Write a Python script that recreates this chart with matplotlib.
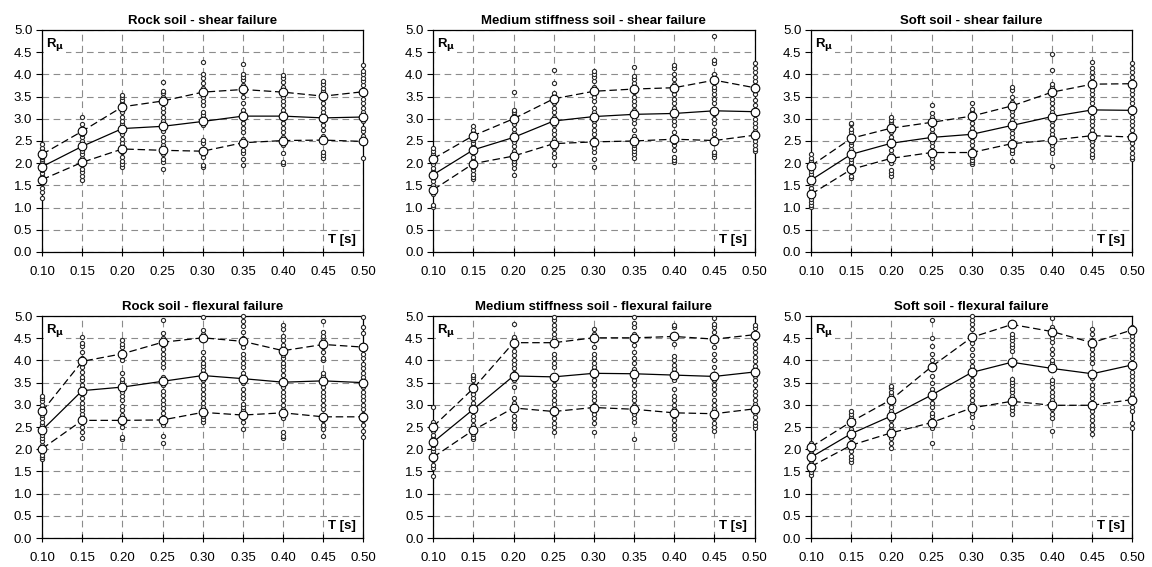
import matplotlib
matplotlib.use("Agg")
import matplotlib.pyplot as plt

plt.rcParams['font.family'] = ['Liberation Sans', 'DejaVu Sans']

# periods
T = [0.10, 0.15, 0.20, 0.25, 0.30, 0.35, 0.40, 0.45, 0.50]
tick_labels = ["0.10", "0.15", "0.20", "0.25", "0.30", "0.35", "0.40", "0.45", "0.50"]

titles = ["Rock soil - shear failure", "Medium stiffness soil - shear failure", "Soft soil - shear failure",
          "Rock soil - flexural failure", "Medium stiffness soil - flexural failure", "Soft soil - flexural failure"]

# mean, mean+std, mean-std for each panel
rock_shear_mean = [1.92, 2.38, 2.78, 2.83, 2.94, 3.06, 3.06, 3.02, 3.04]
rock_shear_up = [2.20, 2.72, 3.27, 3.40, 3.60, 3.66, 3.60, 3.51, 3.61]
rock_shear_lo = [1.63, 2.02, 2.32, 2.29, 2.27, 2.46, 2.51, 2.52, 2.49]

med_shear_mean = [1.74, 2.30, 2.58, 2.95, 3.05, 3.10, 3.12, 3.18, 3.16]
med_shear_up = [2.10, 2.62, 3.00, 3.45, 3.62, 3.67, 3.70, 3.87, 3.70]
med_shear_lo = [1.40, 1.99, 2.16, 2.44, 2.48, 2.50, 2.54, 2.51, 2.63]

soft_shear_mean = [1.62, 2.20, 2.45, 2.58, 2.65, 2.85, 3.05, 3.20, 3.19]
soft_shear_up = [1.94, 2.56, 2.79, 2.92, 3.06, 3.29, 3.60, 3.78, 3.79]
soft_shear_lo = [1.30, 1.86, 2.11, 2.24, 2.24, 2.44, 2.52, 2.62, 2.59]

rock_flex_mean = [2.43, 3.32, 3.40, 3.53, 3.66, 3.59, 3.51, 3.54, 3.50]
rock_flex_up = [2.85, 3.98, 4.15, 4.41, 4.51, 4.43, 4.22, 4.36, 4.30]
rock_flex_lo = [2.01, 2.65, 2.65, 2.66, 2.83, 2.77, 2.82, 2.73, 2.73]

med_flex_mean = [2.16, 2.90, 3.65, 3.63, 3.71, 3.70, 3.67, 3.64, 3.74]
med_flex_up = [2.51, 3.37, 4.40, 4.40, 4.51, 4.51, 4.54, 4.48, 4.58]
med_flex_lo = [1.82, 2.43, 2.93, 2.85, 2.94, 2.90, 2.82, 2.80, 2.91]

soft_flex_mean = [1.82, 2.35, 2.75, 3.22, 3.73, 3.96, 3.82, 3.70, 3.90]
soft_flex_up = [2.05, 2.62, 3.12, 3.86, 4.52, 4.81, 4.65, 4.40, 4.69]
soft_flex_lo = [1.61, 2.09, 2.37, 2.60, 2.93, 3.08, 2.99, 2.99, 3.12]

# individual results, one list per period
rock_shear_pts = [
    [1.22, 1.36, 1.45, 1.55, 1.65, 1.72, 1.78, 1.85, 1.9, 1.95, 2.0, 2.05, 2.1, 2.15, 2.2, 2.28, 2.35, 2.43],
    [1.63, 1.72, 1.8, 1.88, 1.95, 2.0, 2.05, 2.12, 2.2, 2.28, 2.35, 2.42, 2.5, 2.58, 2.65, 2.72, 2.8, 2.88, 3.05],
    [1.92, 1.98, 2.05, 2.15, 2.25, 2.35, 2.45, 2.55, 2.65, 2.72, 2.8, 2.88, 2.95, 3.05, 3.15, 3.25, 3.35, 3.42, 3.48, 3.53],
    [1.86, 2.02, 2.1, 2.2, 2.3, 2.4, 2.5, 2.6, 2.72, 2.85, 2.95, 3.05, 3.15, 3.25, 3.38, 3.5, 3.57, 3.63, 3.82],
    [1.92, 1.96, 2.15, 2.22, 2.32, 2.45, 2.52, 2.85, 2.92, 3.0, 3.08, 3.15, 3.3, 3.4, 3.5, 3.6, 3.7, 3.8, 3.92, 4.0, 4.27],
    [1.95, 2.1, 2.22, 2.3, 2.42, 2.55, 2.7, 2.8, 2.9, 3.0, 3.1, 3.2, 3.35, 3.5, 3.6, 3.75, 3.88, 3.95, 4.02, 4.24],
    [1.99, 2.02, 2.22, 2.4, 2.5, 2.6, 2.7, 2.8, 2.9, 3.0, 3.1, 3.2, 3.3, 3.4, 3.5, 3.62, 3.72, 3.82, 3.92, 3.98],
    [2.12, 2.18, 2.25, 2.5, 2.62, 2.75, 2.85, 2.95, 3.05, 3.15, 3.25, 3.35, 3.45, 3.55, 3.62, 3.7, 3.78, 3.85],
    [2.12, 2.5, 2.62, 2.72, 2.8, 2.95, 3.05, 3.15, 3.25, 3.35, 3.45, 3.55, 3.65, 3.75, 3.85, 3.92, 4.0, 4.08, 4.22],
]
med_shear_pts = [
    [1.02, 1.05, 1.3, 1.42, 1.5, 1.6, 1.68, 1.75, 1.82, 1.9, 1.98, 2.05, 2.12, 2.2, 2.28, 2.35],
    [1.64, 1.68, 1.75, 1.85, 1.92, 2.0, 2.08, 2.15, 2.22, 2.3, 2.38, 2.45, 2.52, 2.6, 2.68, 2.75, 2.83],
    [1.73, 1.9, 1.98, 2.05, 2.12, 2.2, 2.28, 2.38, 2.48, 2.58, 2.68, 2.78, 2.88, 2.98, 3.08, 3.15, 3.2, 3.6],
    [1.96, 2.15, 2.22, 2.35, 2.45, 2.55, 2.65, 2.75, 2.85, 2.95, 3.05, 3.15, 3.25, 3.35, 3.45, 3.52, 3.58, 3.8, 4.1],
    [1.91, 2.1, 2.25, 2.35, 2.45, 2.55, 2.65, 2.75, 2.85, 2.95, 3.05, 3.15, 3.25, 3.4, 3.5, 3.62, 3.72, 3.85, 3.95, 4.02, 4.07],
    [2.12, 2.2, 2.28, 2.35, 2.42, 2.52, 2.62, 2.75, 2.9, 3.0, 3.1, 3.2, 3.3, 3.4, 3.5, 3.6, 3.7, 3.8, 3.9, 3.97, 4.17],
    [2.02, 2.08, 2.15, 2.3, 2.4, 2.48, 2.6, 2.7, 2.85, 2.95, 3.05, 3.15, 3.25, 3.35, 3.45, 3.55, 3.65, 3.78, 3.9, 4.0, 4.15, 4.22],
    [2.15, 2.2, 2.25, 2.45, 2.55, 2.65, 2.75, 2.9, 3.0, 3.1, 3.2, 3.35, 3.45, 3.55, 3.65, 3.72, 3.8, 3.92, 4.0, 4.25, 4.32, 4.87],
    [2.28, 2.32, 2.4, 2.5, 2.6, 2.72, 2.82, 2.9, 3.0, 3.1, 3.2, 3.3, 3.42, 3.55, 3.65, 3.75, 3.85, 3.95, 4.05, 4.15, 4.25],
]
soft_shear_pts = [
    [1.02, 1.06, 1.12, 1.2, 1.28, 1.38, 1.45, 1.52, 1.6, 1.68, 1.75, 1.82, 1.9, 1.98, 2.05, 2.12, 2.2],
    [1.66, 1.72, 1.8, 1.88, 1.95, 2.02, 2.1, 2.18, 2.25, 2.32, 2.4, 2.48, 2.55, 2.62, 2.7, 2.78, 2.88, 2.9],
    [1.72, 1.78, 1.85, 2.0, 2.1, 2.2, 2.3, 2.4, 2.5, 2.6, 2.7, 2.78, 2.85, 2.92, 2.98, 3.03],
    [1.92, 2.02, 2.12, 2.2, 2.28, 2.38, 2.48, 2.58, 2.68, 2.78, 2.88, 2.98, 3.05, 3.12, 3.3],
    [1.98, 2.02, 2.08, 2.15, 2.3, 2.4, 2.5, 2.6, 2.7, 2.8, 2.9, 3.0, 3.08, 3.15, 3.22, 3.36],
    [2.06, 2.22, 2.3, 2.38, 2.48, 2.58, 2.68, 2.78, 2.88, 2.98, 3.08, 3.18, 3.28, 3.38, 3.48, 3.65, 3.72],
    [1.94, 2.22, 2.32, 2.42, 2.55, 2.65, 2.75, 2.85, 2.95, 3.05, 3.15, 3.25, 3.35, 3.45, 3.55, 3.65, 3.72, 3.78, 4.1, 4.45],
    [2.15, 2.2, 2.3, 2.4, 2.5, 2.62, 2.75, 2.85, 2.95, 3.05, 3.15, 3.25, 3.35, 3.45, 3.55, 3.65, 3.75, 3.85, 3.95, 4.05, 4.15, 4.28],
    [2.1, 2.15, 2.22, 2.35, 2.45, 2.55, 2.65, 2.75, 2.85, 2.95, 3.05, 3.15, 3.25, 3.35, 3.45, 3.55, 3.65, 3.75, 3.85, 3.95, 4.05, 4.15, 4.25],
]
rock_flex_pts = [
    [1.78, 1.82, 1.88, 1.95, 2.02, 2.1, 2.18, 2.25, 2.32, 2.4, 2.48, 2.55, 2.62, 2.7, 2.78, 2.85, 2.92, 3.0, 3.08, 3.15, 3.2],
    [2.25, 2.38, 2.5, 2.65, 2.72, 2.8, 2.88, 2.95, 3.05, 3.15, 3.25, 3.35, 3.45, 3.55, 3.62, 3.75, 3.85, 3.95, 4.05, 4.2, 4.32, 4.4, 4.52],
    [2.22, 2.28, 2.5, 2.58, 2.68, 2.78, 2.88, 2.98, 3.1, 3.2, 3.3, 3.45, 3.52, 3.58, 3.72, 4.0, 4.1, 4.2, 4.3, 4.38, 4.47],
    [2.15, 2.3, 2.55, 2.62, 2.72, 2.82, 2.92, 3.02, 3.12, 3.22, 3.32, 3.45, 3.55, 3.62, 3.85, 3.95, 4.05, 4.15, 4.25, 4.35, 4.5, 4.62, 4.9],
    [2.62, 2.68, 2.75, 2.85, 2.95, 3.05, 3.15, 3.25, 3.35, 3.45, 3.55, 3.68, 3.78, 3.88, 3.95, 4.05, 4.2, 4.6, 4.68, 4.97],
    [2.45, 2.62, 2.7, 2.78, 2.88, 2.95, 3.02, 3.15, 3.25, 3.35, 3.5, 3.62, 3.72, 3.85, 3.95, 4.05, 4.15, 4.3, 4.5, 4.65, 4.78, 4.88, 5.0],
    [2.25, 2.3, 2.38, 2.7, 2.8, 2.9, 3.0, 3.1, 3.2, 3.3, 3.4, 3.55, 3.68, 3.78, 3.88, 3.95, 4.05, 4.12, 4.22, 4.35, 4.45, 4.55, 4.7, 4.8],
    [2.3, 2.45, 2.55, 2.65, 2.78, 2.9, 3.0, 3.1, 3.2, 3.3, 3.4, 3.55, 3.65, 3.72, 4.0, 4.05, 4.2, 4.3, 4.45, 4.55, 4.65, 4.88],
    [2.28, 2.42, 2.55, 2.65, 2.8, 2.9, 3.0, 3.1, 3.2, 3.3, 3.4, 3.52, 3.62, 3.72, 3.82, 3.92, 4.05, 4.15, 4.25, 4.35, 4.62, 4.75, 4.97],
]
med_flex_pts = [
    [1.4, 1.58, 1.65, 1.75, 1.85, 1.95, 2.02, 2.1, 2.18, 2.25, 2.32, 2.4, 2.48, 2.55, 2.62, 2.95],
    [2.22, 2.28, 2.35, 2.45, 2.55, 2.65, 2.75, 2.85, 2.95, 3.05, 3.15, 3.25, 3.35, 3.45, 3.55, 3.62, 3.68],
    [2.48, 2.55, 2.65, 2.75, 2.9, 3.05, 3.15, 3.4, 3.55, 3.62, 3.72, 3.82, 3.92, 4.02, 4.12, 4.22, 4.32, 4.45, 4.52, 4.82],
    [2.38, 2.5, 2.6, 2.7, 2.8, 2.92, 3.02, 3.12, 3.22, 3.32, 3.45, 3.55, 3.65, 3.85, 3.95, 4.05, 4.15, 4.5, 4.6, 4.7, 4.8, 4.9, 4.97],
    [2.38, 2.6, 2.7, 2.8, 2.9, 3.0, 3.1, 3.2, 3.3, 3.45, 3.55, 3.65, 3.75, 3.85, 3.95, 4.05, 4.15, 4.3, 4.45, 4.6, 4.7],
    [2.22, 2.62, 2.7, 2.8, 2.9, 3.0, 3.1, 3.2, 3.3, 3.45, 3.55, 3.65, 3.8, 3.95, 4.05, 4.2, 4.35, 4.6, 4.75, 4.85, 4.97],
    [2.22, 2.32, 2.45, 2.55, 2.65, 2.75, 2.9, 3.0, 3.1, 3.2, 3.35, 3.55, 3.7, 3.8, 3.9, 4.0, 4.1, 4.38, 4.55, 4.75, 4.8],
    [2.42, 2.5, 2.6, 2.7, 2.8, 2.9, 3.0, 3.1, 3.25, 3.35, 3.45, 3.55, 3.7, 3.85, 4.02, 4.15, 4.3, 4.65, 4.75, 4.82, 4.95],
    [2.48, 2.55, 2.62, 2.72, 2.82, 2.92, 3.02, 3.12, 3.22, 3.32, 3.45, 3.55, 3.65, 3.78, 3.88, 3.98, 4.08, 4.18, 4.28, 4.38, 4.5, 4.62, 4.72, 4.8],
]
soft_flex_pts = [
    [1.42, 1.48, 1.55, 1.62, 1.7, 1.78, 1.85, 1.92, 2.0, 2.08, 2.15],
    [1.72, 1.78, 1.85, 1.95, 2.05, 2.15, 2.25, 2.35, 2.45, 2.55, 2.65, 2.72, 2.8, 2.87],
    [2.02, 2.15, 2.25, 2.35, 2.45, 2.55, 2.65, 2.75, 2.85, 2.95, 3.05, 3.15, 3.22, 3.3, 3.38, 3.43],
    [2.14, 2.48, 2.55, 2.65, 2.75, 2.82, 2.95, 3.05, 3.15, 3.25, 3.35, 3.5, 3.65, 3.8, 3.92, 4.02, 4.15, 4.32, 4.5, 4.9],
    [2.5, 2.72, 2.82, 2.92, 3.02, 3.12, 3.22, 3.32, 3.45, 3.55, 3.68, 3.78, 3.88, 3.98, 4.12, 4.25, 4.4, 4.55, 4.7, 4.82, 4.92, 5.0],
    [2.8, 2.88, 2.95, 3.05, 3.12, 3.2, 3.28, 3.35, 3.45, 3.52, 3.58, 3.9, 4.22, 4.3, 4.38, 4.45, 4.52, 4.6],
    [2.4, 2.7, 2.8, 2.9, 3.0, 3.1, 3.2, 3.3, 3.4, 3.5, 3.55, 3.85, 3.95, 4.0, 4.15, 4.25, 4.42, 4.5, 4.75, 4.95],
    [2.35, 2.45, 2.55, 2.65, 2.75, 2.85, 2.95, 3.05, 3.15, 3.25, 3.35, 3.45, 3.6, 3.95, 4.05, 4.15, 4.25, 4.35, 4.45, 4.6, 4.7],
    [2.48, 2.58, 2.85, 2.95, 3.1, 3.25, 3.35, 3.45, 3.55, 3.65, 3.75, 3.85, 3.95, 4.05, 4.15, 4.25, 4.35, 4.45, 4.55, 4.65, 4.72, 4.75],
]

panels = [
    (rock_shear_pts, rock_shear_mean, rock_shear_up, rock_shear_lo),
    (med_shear_pts, med_shear_mean, med_shear_up, med_shear_lo),
    (soft_shear_pts, soft_shear_mean, soft_shear_up, soft_shear_lo),
    (rock_flex_pts, rock_flex_mean, rock_flex_up, rock_flex_lo),
    (med_flex_pts, med_flex_mean, med_flex_up, med_flex_lo),
    (soft_flex_pts, soft_flex_mean, soft_flex_up, soft_flex_lo),
]

fig = plt.figure(figsize=(11.52, 5.67), dpi=100)

lefts = [0.0365, 0.376, 0.704]
bottoms = [0.5556, 0.0511]
w, h = 0.279, 0.3915

for i, (pts, mean, up, lo) in enumerate(panels):
    ax = fig.add_axes([lefts[i % 3], bottoms[i // 3], w, h])

    # scatter of single results
    for t, vals in zip(T, pts):
        ax.plot([t] * len(vals), vals, 'o', ms=3.0, mfc='white', mec='#2a2a2a',
                mew=0.8, linestyle='none', clip_on=False, zorder=3)

    ax.plot(T, up, color='black', lw=0.9, dashes=(6, 3), zorder=4)
    ax.plot(T, lo, color='black', lw=0.9, dashes=(6, 3), zorder=4)
    ax.plot(T, mean, color='black', lw=0.9, zorder=4)
    for series in (up, lo, mean):
        ax.plot(T, series, 'o', ms=6.2, mfc='white', mec='black', mew=0.8,
                linestyle='none', clip_on=False, zorder=5)

    ax.set_xlim(0.10, 0.50)
    ax.set_ylim(0.0, 5.0)
    ax.set_xticks(T)
    ax.set_xticklabels(tick_labels)
    ax.set_yticks([0.5 * k for k in range(11)])
    ax.set_yticklabels(["%.1f" % (0.5 * k) for k in range(11)])
    ax.tick_params(labelsize=9.5, width=0.8)
    ax.tick_params(axis='x', direction='inout', length=6, pad=7)
    ax.tick_params(axis='y', direction='out', length=4, pad=3)
    ax.grid(True, color='#8c8c8c', lw=0.8, dashes=(6, 4))
    ax.set_axisbelow(True)
    for sp in ax.spines.values():
        sp.set_linewidth(0.9)

    ax.set_title(titles[i], fontsize=9.5, fontweight='bold', pad=4)
    ax.text(0.012, 0.935, r'R$_{\mathbf{\mu}}$', transform=ax.transAxes,
            fontsize=9.5, fontweight='bold', ha='left', va='center',
            bbox=dict(facecolor='white', edgecolor='none', pad=1))
    ax.text(0.975, 0.055, 'T [s]', transform=ax.transAxes, fontsize=9.5,
            fontweight='bold', ha='right', va='center',
            bbox=dict(facecolor='white', edgecolor='none', pad=1))

plt.savefig('out.png', dpi=100)
